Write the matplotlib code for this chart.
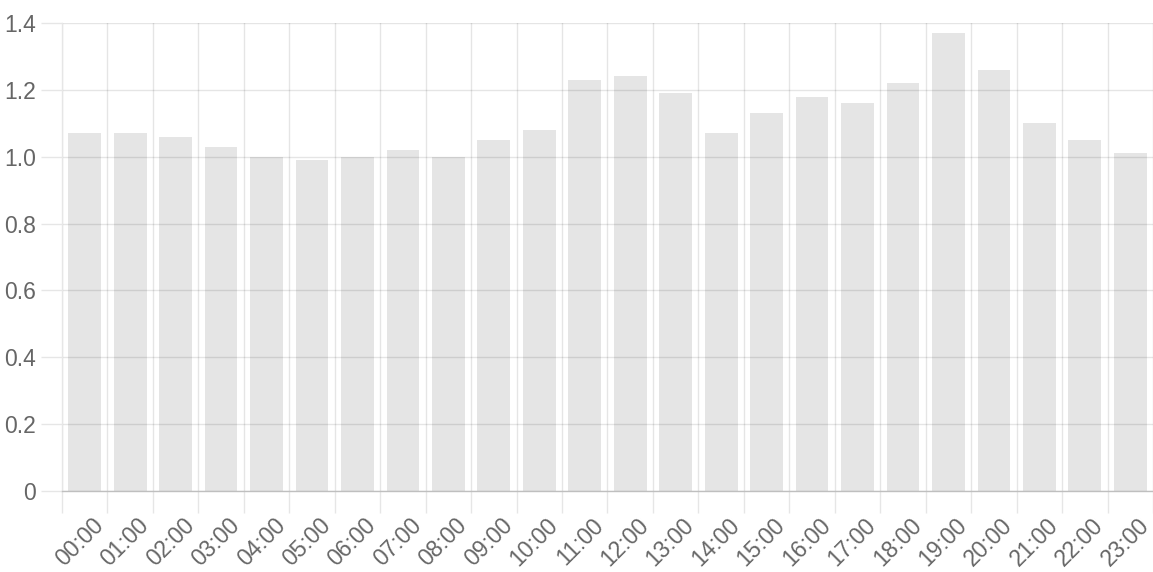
import matplotlib
matplotlib.use("Agg")
import matplotlib.pyplot as plt
import matplotlib.transforms as mtransforms
import numpy as np

hours = [f"{h:02d}:00" for h in range(24)]
values = [1.07, 1.07, 1.06, 1.03, 1.00, 0.99, 1.00, 1.02, 1.00, 1.05, 1.08, 1.23,
          1.24, 1.19, 1.07, 1.13, 1.18, 1.16, 1.22, 1.37, 1.26, 1.10, 1.05, 1.01]
yticks = [0, 0.2, 0.4, 0.6, 0.8, 1.0, 1.2, 1.4]
ytick_labels = ["0", "0.2", "0.4", "0.6", "0.8", "1.0", "1.2", "1.4"]

W, H, DPI = 1153, 572, 100
plt.rcParams['font.family'] = ['Liberation Sans', 'DejaVu Sans']
fig = plt.figure(figsize=(W / DPI, H / DPI), dpi=DPI)
ax = fig.add_axes([62 / W, 81 / H, (1153 - 62) / W, (491 - 23) / H])

grid_c = "#000000"
grid_a = 0.1
text_c = "#666666"
px = 72 / DPI  # points per pixel
fs = 16.5

x = np.arange(len(hours))
ax.bar(x, values, width=0.72, color=(0, 0, 0, 0.1), zorder=2, linewidth=0)

ax.set_xlim(-0.5, len(hours) - 0.5)
ax.set_ylim(0, 1.4)

# vertical grid at category boundaries
ax.set_xticks(np.arange(-0.5, len(hours) + 0.5, 1.0), minor=True)
ax.set_xticks(x)
ax.set_xticklabels(hours, rotation=45, ha='right', va='center', rotation_mode='anchor')
ax.tick_params(axis='x', which='minor', length=16, width=1, color="#e6e6e6",
               gridOn=True, grid_color=grid_c, grid_alpha=grid_a, grid_linewidth=1)
ax.tick_params(axis='x', which='major', length=0, pad=31 * px, labelsize=fs,
               labelcolor=text_c, gridOn=False)

offset = mtransforms.ScaledTranslation(15 / DPI, 0, fig.dpi_scale_trans)
for lbl in ax.get_xticklabels():
    lbl.set_transform(lbl.get_transform() + offset)

ax.set_yticks(yticks)
ax.set_yticklabels(ytick_labels)
ax.tick_params(axis='y', length=15, width=1, color="#e6e6e6", pad=5 * px, labelsize=fs,
               labelcolor=text_c, gridOn=True, grid_color=grid_c, grid_alpha=grid_a,
               grid_linewidth=1)

for s in ['top', 'right']:
    ax.spines[s].set_visible(False)
ax.spines['left'].set_color("#e6e6e6")
ax.spines['bottom'].set_color("#bfbfbf")
ax.spines['left'].set_linewidth(1)
ax.spines['bottom'].set_linewidth(1)
ax.set_axisbelow(True)

fig.savefig("out.png", dpi=DPI, facecolor="white")
